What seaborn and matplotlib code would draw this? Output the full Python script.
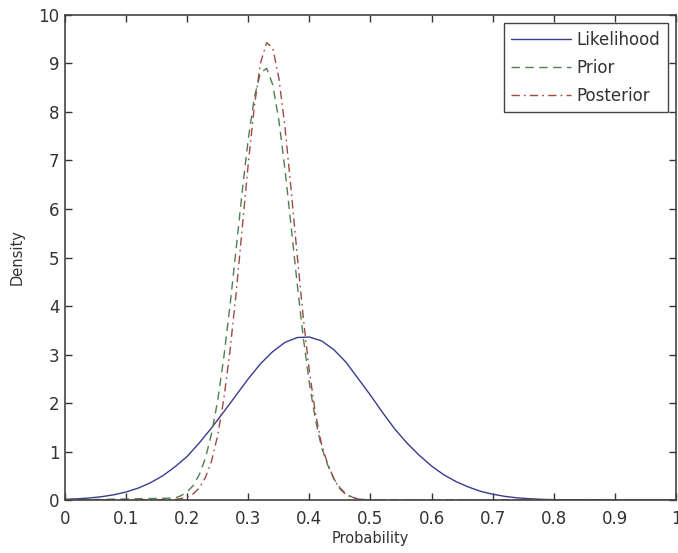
import pandas as pd
import seaborn as sns
import matplotlib.pyplot as plt
from matplotlib.ticker import FuncFormatter

# Values
lik_x = [0.00, 0.02, 0.04, 0.06, 0.08, 0.10, 0.12, 0.14, 0.16, 0.18,
         0.20, 0.22, 0.24, 0.26, 0.28, 0.30, 0.32, 0.34, 0.36, 0.38,
         0.40, 0.42, 0.44, 0.46, 0.48, 0.50, 0.52, 0.54, 0.56, 0.58,
         0.60, 0.62, 0.64, 0.66, 0.68, 0.70, 0.72, 0.74, 0.76, 0.78,
         0.80, 0.82, 0.84, 1.00]
lik_y = [0.015, 0.025, 0.042, 0.069, 0.108, 0.166, 0.247, 0.357, 0.50, 0.685,
         0.90, 1.18, 1.49, 1.82, 2.16, 2.50, 2.81, 3.06, 3.25, 3.35,
         3.36, 3.28, 3.10, 2.84, 2.50, 2.16, 1.80, 1.46, 1.17, 0.92,
         0.70, 0.52, 0.38, 0.27, 0.18, 0.12, 0.075, 0.045, 0.027, 0.015,
         0.008, 0.004, 0.002, 0.0]

dist_x = [0.00, 0.18, 0.19, 0.20, 0.21, 0.22, 0.23, 0.24, 0.25, 0.26,
          0.27, 0.28, 0.29, 0.30, 0.31, 0.32, 0.33, 0.34, 0.35, 0.36,
          0.37, 0.38, 0.39, 0.40, 0.41, 0.42, 0.43, 0.44, 0.45, 0.46,
          0.47, 0.48, 0.50, 1.00]
prior_y = [0.0, 0.04, 0.09, 0.17, 0.30, 0.53, 0.87, 1.38, 2.06, 2.95,
           4.00, 5.17, 6.36, 7.45, 8.31, 8.81, 8.90, 8.56, 7.83, 6.82,
           5.65, 4.46, 3.35, 2.40, 1.65, 1.08, 0.72, 0.44, 0.25, 0.13,
           0.06, 0.02, 0.0, 0.0]
post_y = [0.0, 0.01, 0.03, 0.06, 0.13, 0.25, 0.47, 0.81, 1.34, 2.09,
          3.07, 4.26, 5.60, 6.94, 8.13, 9.01, 9.43, 9.32, 8.70, 7.69,
          6.41, 5.05, 3.76, 2.65, 1.78, 1.14, 0.74, 0.44, 0.23, 0.11,
          0.05, 0.02, 0.0, 0.0]

lik = pd.DataFrame({"x": lik_x, "y": lik_y})
prior = pd.DataFrame({"x": dist_x, "y": prior_y})
post = pd.DataFrame({"x": dist_x, "y": post_y})

sns.set_style("ticks")
plt.rcParams["font.family"] = ["DejaVu Sans"]

fig = plt.figure(figsize=(6.78, 5.53), dpi=100)
ax = fig.add_axes([0.0959, 0.0958, 0.9011, 0.8771])

sns.lineplot(data=lik, x="x", y="y", ax=ax, color="#3b3b8c", lw=1.0,
             label="Likelihood", sort=False)
sns.lineplot(data=prior, x="x", y="y", ax=ax, color="#4f7f4f", lw=1.0,
             label="Prior", sort=False, dashes=False)
sns.lineplot(data=post, x="x", y="y", ax=ax, color="#a04848", lw=1.0,
             label="Posterior", sort=False, dashes=False)
ax.lines[1].set_dashes((6, 4))
ax.lines[2].set_dashes((6, 3, 1.2, 3))

ax.set_xlim(0, 1)
ax.set_ylim(0, 10)
ax.set_xticks([i / 10 for i in range(11)])
ax.set_yticks(range(11))
ax.xaxis.set_major_formatter(FuncFormatter(lambda v, p: "%g" % round(v, 2)))
ax.tick_params(direction="in", length=5, width=1, top=True, right=True,
               labelsize=12, colors="#333333")
ax.tick_params(axis="x", pad=7)
ax.tick_params(axis="y", pad=4)
for s in ax.spines.values():
    s.set_color("#444444")
    s.set_linewidth(1.2)

ax.set_xlabel("Probability", fontsize=10.5, color="#333333", labelpad=2)
ax.set_ylabel("Density", fontsize=10.5, color="#333333", labelpad=10)

leg = ax.legend(loc="upper right", fontsize=12, handlelength=3.6,
                handletextpad=0.3, labelspacing=0.6, borderpad=0.45,
                borderaxespad=0.5, fancybox=False, framealpha=1)
leg.get_frame().set_edgecolor("#444444")
leg.get_frame().set_linewidth(1.0)
for t in leg.get_texts():
    t.set_color("#333333")

plt.savefig("out.png", dpi=100)
